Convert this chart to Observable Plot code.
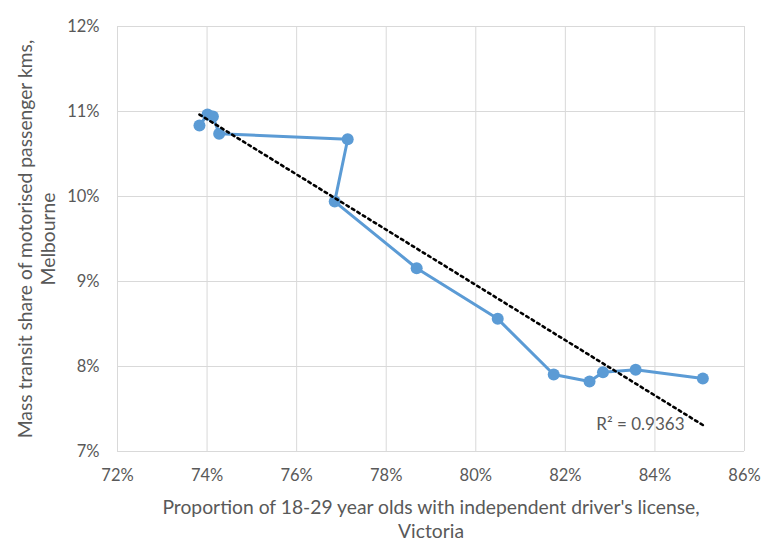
<!DOCTYPE html>
<html>
<head>
<meta charset="utf-8">
<script src="https://cdn.jsdelivr.net/npm/d3@7"></script>
<script src="https://cdn.jsdelivr.net/npm/@observablehq/plot@0.6"></script>
<style>
  html, body { margin: 0; padding: 0; background: #fff; }
</style>
</head>
<body>
<div id="chart"></div>
<script>
// Proportion of 18-29 year olds with independent driver's license, Victoria (%)
const licenseShare = [73.83, 74.01, 74.13, 74.27, 77.14, 76.85, 78.68, 80.49, 81.74, 82.54, 82.84, 83.57, 85.07];
// Mass transit share of motorised passenger kms, Melbourne (%)
const transitShare = [10.835, 10.965, 10.94, 10.738, 10.674, 9.94, 9.156, 8.561, 7.906, 7.824, 7.933, 7.961, 7.859];

const xTicks = [72, 74, 76, 78, 80, 82, 84, 86];
const yTicks = [7, 8, 9, 10, 11, 12];

const xTitle = "Proportion of 18-29 year olds with independent driver's license,\nVictoria";
const yTitle = "Mass transit share of motorised passenger kms,\nMelbourne";
const rSquaredLabel = "R² = 0.9363";

const data = licenseShare.map((x, i) => ({x, y: transitShare[i]}));

const font = "Lato, Calibri, Carlito, sans-serif";
const grey = "#595959";
const gridColor = "#D9D9D9";
const blue = "#5B9BD5";

const chart = Plot.plot({
  width: 776,
  height: 547,
  marginLeft: 117,
  marginRight: 32,
  marginTop: 26,
  marginBottom: 96,
  style: {fontFamily: font, color: grey, background: "#fff"},
  x: {domain: [72, 86]},
  y: {domain: [7, 12]},
  marks: [
    Plot.gridX(xTicks, {stroke: gridColor, strokeOpacity: 1, strokeWidth: 1}),
    Plot.gridY(yTicks, {stroke: gridColor, strokeOpacity: 1, strokeWidth: 1}),
    Plot.axisX(xTicks, {tickSize: 0, tickPadding: 18, tickFormat: d => d + "%", fontSize: 16.5, fill: grey, label: null}),
    Plot.axisY(yTicks, {tickSize: 0, tickPadding: 18, tickFormat: d => d + "%", fontSize: 16.5, fill: grey, label: null}),
    Plot.line(data, {x: "x", y: "y", stroke: blue, strokeWidth: 3}),
    Plot.dot(data, {x: "x", y: "y", r: 6, fill: blue, stroke: "none"}),
    Plot.linearRegressionY(data, {x: "x", y: "y", ci: 0, stroke: "#000", strokeWidth: 2.6, strokeDasharray: "2.6,3.8"}),
    Plot.text([rSquaredLabel], {frameAnchor: "bottom-right", dx: -60, dy: -27, textAnchor: "end", lineAnchor: "middle", fontSize: 17, fill: grey}),
    Plot.text([xTitle], {frameAnchor: "bottom", dy: 67, textAnchor: "middle", lineAnchor: "middle", lineHeight: 1.24, fontSize: 19.3, fill: grey}),
    Plot.text([yTitle], {frameAnchor: "left", dx: -81, rotate: -90, textAnchor: "middle", lineAnchor: "middle", lineHeight: 1.18, fontSize: 19.3, fill: grey})
  ]
});
document.getElementById("chart").appendChild(chart);
</script>
</body>
</html>
